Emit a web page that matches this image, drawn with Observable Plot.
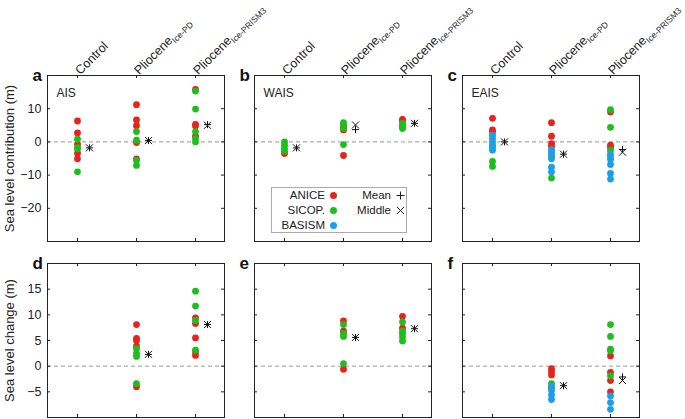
<!DOCTYPE html>
<html><head><meta charset="utf-8">
<script src="https://cdn.jsdelivr.net/npm/d3@7"></script>
<script src="https://cdn.jsdelivr.net/npm/@observablehq/plot@0.6"></script>
<style>
body{margin:0;background:#fff;font-family:"Liberation Sans",Arial,Helvetica,sans-serif;}
#fig{position:relative;width:685px;height:419px;overflow:hidden;background:#fff;}
#fig > svg{position:absolute;overflow:visible;}
#legend{position:absolute;left:271px;top:187px;width:136px;height:46px;border:1px solid #aaa;background:#fff;font-size:11.5px;color:#222;box-sizing:border-box;}
#legend .t{position:absolute;white-space:nowrap;text-align:right;line-height:13px;}
#legend .d{position:absolute;width:7px;height:7px;border-radius:50%;}
#legend .s{position:absolute;width:9px;height:9px;}
</style></head><body><div id="fig"><div id="legend"></div></div>
<script>
// ---- categories / models / ticks ----
const categories = ["Control", "Pliocene Ice-PD", "Pliocene Ice-PRISM3"];
const models = ["ANICE", "SICOPOLIS", "BASISM"];
const legendLabels = ["ANICE", "SICOP.", "BASISM"];
const modelColors = ["#e8231e", "#1fbe1f", "#1d9fe6"];
const statLabels = ["Mean", "Middle"];
const ticksTopRow = [-20, -10, 0, 10];
const ticksBottomRow = [-5, 0, 5, 10, 15];
const domainTopRow = [-30, 20];
const domainBottomRow = [-10, 20];
const panelLetters = ["a", "b", "c", "d", "e", "f"];
const regions = ["AIS", "WAIS", "EAIS"];
const yTitles = ["Sea level contribution (m)", "Sea level change (m)"];

// ---- panel a: AIS contribution (per category: Control, PD, PRISM3) ----
const aAnice = [[6.3, 2.7, -0.7, -3.4, -5.1], [11.2, 6.6, 4.9, -0.2, -5.1], [15.8, 5.3, 4.8, 1.7]];
const aSicop = [[0.8, -1.7, -2.1, -9.0], [3.1, 0.5, -5.6, -7.1], [15.3, 9.9, 3.1, 1.0, 0.0]];
const aBasism = [[], [], []];
const aMean = [-1.8, 0.4, 5.2];
const aMiddle = [-1.8, 0.4, 5.0];

// ---- panel b: WAIS contribution ----
const bAnice = [[-3.5], [4.6, 3.6, -4.1], [6.8, 6.2]];
const bSicop = [[0.0, -1.0, -2.0, -2.8], [5.8, 5.1, 4.1, -0.8], [5.6, 5.0, 4.4, 4.0]];
const bBasism = [[], [], []];
const bMean = [-1.8, 3.7, 5.6];
const bMiddle = [-1.8, 5.1, 5.6];

// ---- panel c: EAIS contribution ----
const cAnice = [[7.1, 3.6, 3.0], [5.8, 1.7, -0.5, -1.3], [9.0, -1.0, -1.7]];
const cSicop = [[-1.0, -5.9, -7.4], [-4.5, -10.9], [9.7, 4.4, -2.5]];
const cBasism = [[2.0, 1.0, 0.0, -1.7, -2.5], [-2.3, -3.0, -3.8, -5.1, -7.6, -9.0], [-3.7, -4.5, -5.2, -6.8, -9.5, -11.2]];
const cMean = [0.0, -3.7, -2.3];
const cMiddle = [0.0, -3.7, -3.1];

// ---- panel d: AIS sea level change ----
const dAnice = [[], [8.1, 5.4, 5.0, 3.9, -4.0], [9.4, 8.3, 5.5, 2.8, 2.1]];
const dSicop = [[], [3.4, 2.5, 1.9, -3.4], [14.6, 11.7, 8.9, 3.1]];
const dBasism = [[], [], []];
const dMean = [null, 2.3, 8.1];
const dMiddle = [null, 2.3, 8.1];

// ---- panel e: WAIS sea level change ----
const eAnice = [[], [8.8, 6.8, -0.6], [9.7, 7.4]];
const eSicop = [[], [8.1, 6.4, 5.8, 0.5], [8.6, 6.8, 6.3, 5.7, 4.9]];
const eBasism = [[], [], []];
const eMean = [null, 5.6, 7.3];
const eMiddle = [null, 5.6, 7.3];

// ---- panel f: EAIS sea level change ----
const fAnice = [[], [-0.5, -1.1, -1.7], [2.0, -1.2, -2.8, -5.0]];
const fSicop = [[], [-3.4, -4.3], [8.1, 5.8, 3.3, 3.0, -1.9]];
const fBasism = [[], [-3.9, -4.7, -5.6, -6.5], [-5.8, -7.1, -8.4]];
const fMean = [null, -3.8, -2.1];
const fMiddle = [null, -3.8, -2.8];

const fmt = d => d < 0 ? "\u2212" + Math.abs(d) : String(d);
const fig = document.getElementById("fig");

const FW = 177, ML = 47, MR = 14;
const frameLefts = [47, 254, 462];

function panel(idx, series, mean, middle) {
  const row = idx < 3 ? 0 : 1;
  const col = idx % 3;
  const top = row === 0 ? 0 : 250;
  const mT = row === 0 ? 75 : 13;
  const FH = row === 0 ? 166 : 154;
  const mB = row === 0 ? 9 : 2;
  const yTicks = row === 0 ? ticksTopRow : ticksBottomRow;
  const yDomain = row === 0 ? domainTopRow : domainBottomRow;
  const rows = [];
  series.forEach((s, mi) => s.forEach((vals, ci) => vals.forEach(v => rows.push({cat: categories[ci], model: models[mi], v}))));
  const stats = categories.map((c, i) => ({cat: c, mean: mean[i], middle: middle[i]})).filter(d => d.mean != null);
  const plot = Plot.plot({
    width: ML + FW + MR, height: mT + FH + mB,
    marginLeft: ML, marginRight: MR, marginTop: mT, marginBottom: mB,
    x: {type: "point", domain: categories, padding: 0.5, axis: null},
    y: {domain: yDomain, axis: null},
    color: {domain: models, range: modelColors},
    style: {background: "transparent", overflow: "visible", fontFamily: '"Liberation Sans", Arial, sans-serif', fontSize: "12.5px", color: "#222"},
    marks: [
      Plot.ruleY([0], {stroke: "#999", strokeDasharray: "4,3"}),
      Plot.tickY(yTicks, {y: d => d, insetRight: FW - 3, stroke: "#222"}),
      Plot.tickY(yTicks, {y: d => d, insetLeft: FW - 3, stroke: "#222"}),
      Plot.tickX(categories, {x: d => d, insetBottom: FH - 3, stroke: "#222"}),
      Plot.tickX(categories, {x: d => d, insetTop: FH - 3, stroke: "#222"}),
      Plot.frame({stroke: "#222"}),
      col === 0 ? Plot.axisY(yTicks, {tickSize: 0, tickPadding: 6, tickFormat: fmt, label: null}) : null,
      col === 0 ? Plot.text([yTitles[row]], {text: d => d, frameAnchor: "left", dx: -38, rotate: -90, textAnchor: "middle", lineAnchor: "middle", fontSize: 13}) : null,
      row === 0 ? Plot.axisX({anchor: "top", tickSize: 0, tickPadding: 3, tickRotate: -45, label: null}) : null,
      Plot.dot(rows, {x: "cat", y: "v", fill: "model", r: 3.4}),
      Plot.dot(stats, {x: "cat", y: "mean", symbol: "plus", r: 2.4, stroke: "#111", fill: "none", strokeWidth: 1, dx: 12}),
      Plot.dot(stats, {x: "cat", y: "middle", symbol: "times", r: 3.3, stroke: "#111", fill: "none", strokeWidth: 1, dx: 12}),
      Plot.text([panelLetters[idx]], {text: d => d, frameAnchor: "top-left", dx: -15, dy: 0, textAnchor: "start", lineAnchor: "middle", fontWeight: "bold", fontSize: 17, fill: "#111"}),
      row === 0 ? Plot.text([regions[col]], {text: d => d, frameAnchor: "top-left", dx: 9, dy: 18, textAnchor: "start", lineAnchor: "middle", fontSize: 12}) : null
    ]
  });
  plot.style.left = (frameLefts[col] - ML) + "px";
  plot.style.top = top + "px";
  // subscripts in category labels
  plot.querySelectorAll('g[aria-label="x-axis tick label"] text').forEach(t => {
    const s = t.textContent;
    const k = s.indexOf(" ");
    if (k > 0) {
      t.textContent = "";
      const ns = "http://www.w3.org/2000/svg";
      const a = document.createElementNS(ns, "tspan"); a.textContent = s.slice(0, k);
      const b = document.createElementNS(ns, "tspan"); b.textContent = s.slice(k + 1);
      b.setAttribute("font-size", "8.5"); b.setAttribute("dy", "3");
      t.appendChild(a); t.appendChild(b);
    }
  });
  fig.insertBefore(plot, document.getElementById("legend"));
}

panel(0, [aAnice, aSicop, aBasism], aMean, aMiddle);
panel(1, [bAnice, bSicop, bBasism], bMean, bMiddle);
panel(2, [cAnice, cSicop, cBasism], cMean, cMiddle);
panel(3, [dAnice, dSicop, dBasism], dMean, dMiddle);
panel(4, [eAnice, eSicop, eBasism], eMean, eMiddle);
panel(5, [fAnice, fSicop, fBasism], fMean, fMiddle);

// legend
const leg = document.getElementById("legend");
legendLabels.forEach((lab, i) => {
  const t = document.createElement("div"); t.className = "t";
  t.textContent = lab; t.style.right = (136 - 55) + "px"; t.style.top = (1 + i * 15) + "px";
  leg.appendChild(t);
  const d = document.createElement("div"); d.className = "d";
  d.style.background = modelColors[i]; d.style.left = "57.5px"; d.style.top = (4 + i * 15) + "px";
  leg.appendChild(d);
});
const statPaths = ["M4.5,0.5V8.5M0.5,4.5H8.5", "M1,1L8,8M8,1L1,8"];
statLabels.forEach((lab, i) => {
  const t = document.createElement("div"); t.className = "t";
  t.textContent = lab; t.style.right = (136 - 121) + "px"; t.style.top = (1 + i * 15) + "px";
  leg.appendChild(t);
  const ns = "http://www.w3.org/2000/svg";
  const s = document.createElementNS(ns, "svg");
  s.setAttribute("class", "s"); s.setAttribute("width", "9"); s.setAttribute("height", "9");
  s.style.left = "124px"; s.style.top = (3 + i * 15) + "px";
  const p = document.createElementNS(ns, "path");
  p.setAttribute("d", statPaths[i]); p.setAttribute("stroke", "#222"); p.setAttribute("stroke-width", "1"); p.setAttribute("fill", "none");
  s.appendChild(p);
  leg.appendChild(s);
});
</script></body></html>
